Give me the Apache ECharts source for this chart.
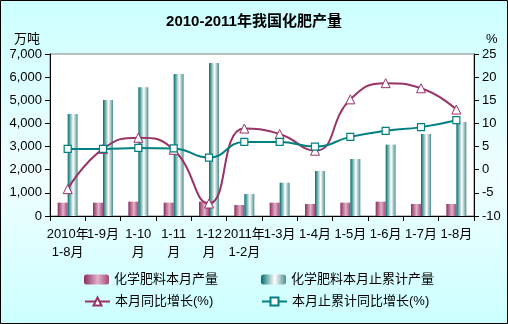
<!DOCTYPE html>
<html>
<head>
<meta charset="utf-8">
<script src="https://cdn.jsdelivr.net/npm/echarts@6/dist/echarts.min.js"></script>
<style>
  html, body { margin: 0; padding: 0; }
  #chart { width: 508px; height: 324px; }
</style>
</head>
<body>
<div id="chart"></div>
<script>
// Categories (cumulative periods)
const categories = ['2010年\n1-8月', '1-9月', '1-10\n月', '1-11\n月', '1-12\n月', '2011年\n1-2月',
  '1-3月', '1-4月', '1-5月', '1-6月', '1-7月', '1-8月'];
// Monthly output, 10k tons
const monthlyOutput = [576, 576, 620, 576, 620, 475, 576, 518, 576, 620, 518, 518];
// Cumulative output, 10k tons
const cumulativeOutput = [4408, 5013, 5561, 6136, 6612, 951, 1440, 1945, 2463, 3083, 3544, 4062];
// Year-on-year growth of monthly output, %
const monthlyGrowth = [-4.2, 4.5, 6.9, 4.3, -7.3, 8.9, 7.7, 4.1, 15.2, 18.7, 17.6, 13.0];
// Year-on-year growth of cumulative output, %
const cumulativeGrowth = [4.5, 4.5, 4.7, 4.6, 2.6, 6.0, 6.0, 5.0, 7.1, 8.4, 9.2, 10.7];
// Axis ticks
const leftTicks = { min: 0, max: 7000, interval: 1000 };
const rightTicks = { min: -10, max: 25, interval: 5 };

const FONT = '"Liberation Sans", "Noto Sans CJK SC", sans-serif';
const pink = '#993366';
const teal = '#008080';

const pinkBar = new echarts.graphic.LinearGradient(0, 0, 1, 0, [
  { offset: 0, color: '#8c2d5c' },
  { offset: 0.55, color: '#e2b0c8' },
  { offset: 1, color: '#a04a78' }
]);
const tealBar = new echarts.graphic.LinearGradient(0, 0, 1, 0, [
  { offset: 0, color: '#006e6e' },
  { offset: 0.55, color: '#ffffff' },
  { offset: 1, color: '#4f8f8f' }
]);

const names = ['化学肥料本月产量', '化学肥料本月止累计产量', '本月同比增长(%)', '本月止累计同比增长(%)'];

function legendAt(name, left, top) {
  return {
    data: [name], left: left, top: top, itemWidth: 25, itemHeight: 10, itemGap: 4,
    textStyle: { fontFamily: FONT, fontSize: 13, color: '#000' }, padding: 0
  };
}

const unitStyle = { fontFamily: FONT, fontSize: 13, fill: '#000' };

const chart = echarts.init(document.getElementById('chart'), null, { renderer: 'canvas' });
chart.setOption({
  animation: false,
  backgroundColor: new echarts.graphic.LinearGradient(0, 0, 0, 1, [
    { offset: 0, color: '#ccffff' },
    { offset: 0.55, color: '#effefe' },
    { offset: 1, color: '#ccffff' }
  ]),
  title: {
    text: '2010-2011年我国化肥产量', left: 'center', top: 9,
    textStyle: { fontFamily: FONT, fontSize: 15, fontWeight: 'bold', color: '#000' }
  },
  graphic: [{
    type: 'rect', shape: { x: 0.5, y: 0.5, width: 507, height: 323 },
    style: { fill: 'none', stroke: '#000', lineWidth: 1 }, z: 100
  }, {
    type: 'text', left: 14, top: 33, style: Object.assign({ text: '万吨' }, unitStyle)
  }, {
    type: 'text', left: 486, top: 33, style: Object.assign({ text: '%' }, unitStyle)
  }],
  legend: [
    legendAt(names[0], 84, 273),
    legendAt(names[1], 261, 273),
    legendAt(names[2], 84, 295),
    legendAt(names[3], 261, 295)
  ],
  grid: {
    left: 50, right: 34, top: 54, bottom: 108, show: true,
    backgroundColor: '#ffffff', borderColor: '#808080', borderWidth: 1
  },
  xAxis: {
    type: 'category', data: categories, boundaryGap: true,
    axisLine: { lineStyle: { color: '#000' } },
    axisTick: { show: true, length: 5, inside: false, lineStyle: { color: '#000' } },
    axisLabel: { interval: 0, fontFamily: FONT, fontSize: 13, color: '#000', lineHeight: 18, margin: 9 }
  },
  yAxis: [{
    type: 'value', min: leftTicks.min, max: leftTicks.max, interval: leftTicks.interval,
    splitLine: { show: false },
    axisLine: { show: true, lineStyle: { color: '#000' } },
    axisTick: { show: true, length: 5, lineStyle: { color: '#000' } },
    axisLabel: {
      fontFamily: FONT, fontSize: 13, color: '#000', margin: 8,
      formatter: v => v.toLocaleString('en-US')
    }
  }, {
    type: 'value', min: rightTicks.min, max: rightTicks.max, interval: rightTicks.interval,
    splitLine: { show: false },
    axisLine: { show: true, lineStyle: { color: '#000' } },
    axisTick: { show: true, length: 5, lineStyle: { color: '#000' } },
    axisLabel: { fontFamily: FONT, fontSize: 13, color: '#000', margin: 8 }
  }],
  series: [{
    name: names[0], type: 'bar', data: monthlyOutput, barWidth: 10, barGap: '0%',
    itemStyle: { color: pinkBar }
  }, {
    name: names[1], type: 'bar', data: cumulativeOutput, barWidth: 10, barGap: '0%',
    itemStyle: { color: tealBar }
  }, {
    name: names[2], type: 'line', yAxisIndex: 1, data: monthlyGrowth, smooth: 0.5,
    symbol: 'triangle', symbolSize: 9, showAllSymbol: true,
    lineStyle: { color: pink, width: 2 },
    itemStyle: { color: '#ffffff', borderColor: pink, borderWidth: 1 }, z: 3
  }, {
    name: names[3], type: 'line', yAxisIndex: 1, data: cumulativeGrowth, smooth: 0.5,
    symbol: 'rect', symbolSize: 7, showAllSymbol: true,
    lineStyle: { color: teal, width: 2 },
    itemStyle: { color: '#ffffff', borderColor: teal, borderWidth: 1.2 }, z: 4
  }]
});
</script>
</body>
</html>
